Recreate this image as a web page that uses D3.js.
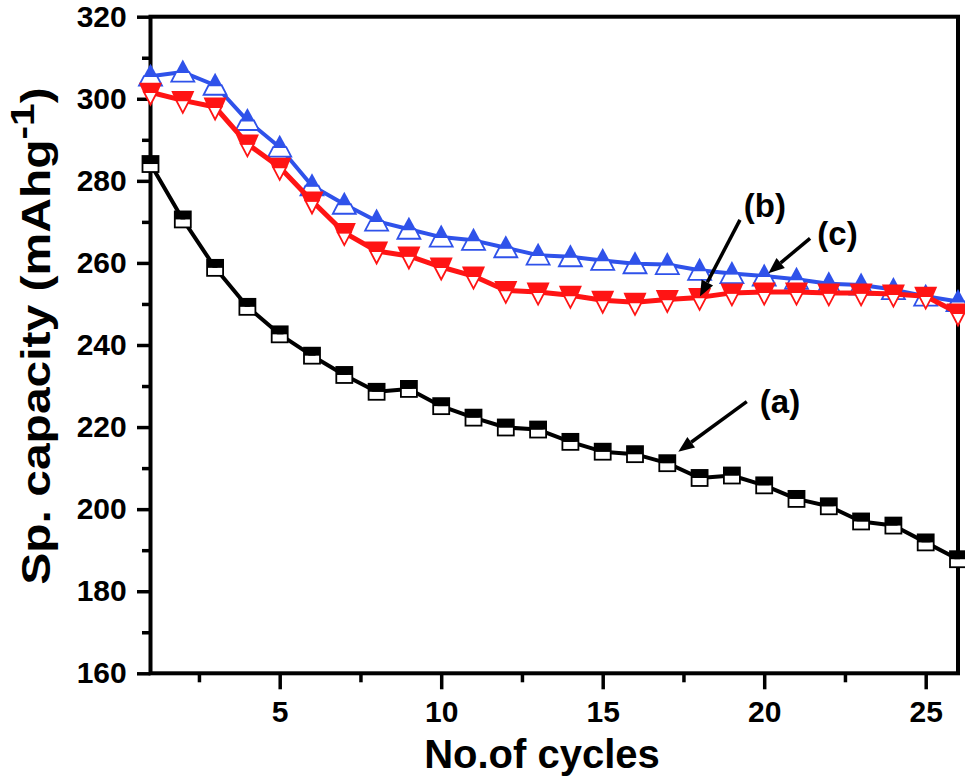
<!DOCTYPE html>
<html>
<head>
<meta charset="utf-8">
<script src="https://cdn.jsdelivr.net/npm/d3@7"></script>
<style>
  body { margin: 0; background: #fff; }
  svg text { font-family: "Liberation Sans", Arial, sans-serif; font-weight: bold; fill: #000; }
</style>
</head>
<body>
<div id="chart"></div>
<script>
// data
const cycles  = [1, 2, 3, 4, 5, 6, 7, 8, 9, 10, 11, 12, 13, 14, 15, 16, 17, 18, 19, 20, 21, 22, 23, 24, 25, 26];
const seriesA = [284.1, 270.6, 258.8, 249.3, 242.6, 237.4, 232.7, 228.6, 229.3, 225.1, 222.3, 219.9, 219.4,
                 216.4, 214.0, 213.4, 211.2, 207.6, 208.2, 205.8, 202.5, 200.7, 197.0, 196.0, 191.9, 187.8];
const seriesB = [301.6, 299.6, 298.0, 289.0, 283.3, 275.1, 267.4, 262.9, 261.7, 259.0, 256.8, 253.3, 252.9,
                 252.1, 250.9, 250.4, 251.1, 251.6, 252.7, 252.9, 252.9, 252.7, 252.7, 252.4, 251.9, 247.8];
const seriesC = [305.5, 306.5, 303.3, 294.7, 288.2, 278.8, 274.3, 270.2, 268.2, 266.3, 265.5, 263.7, 261.9,
                 261.5, 260.6, 259.8, 259.6, 258.2, 257.4, 256.8, 256.0, 254.9, 254.6, 253.5, 251.9, 250.6];
const yTicks  = [160, 180, 200, 220, 240, 260, 280, 300, 320];
const yMinor  = [170, 190, 210, 230, 250, 270, 290, 310];
const xTicks  = [5, 10, 15, 20, 25];
const xMinor  = [2.5, 7.5, 12.5, 17.5, 22.5];
const labels  = ["(a)", "(b)", "(c)"];

const W = 965, H = 782;
const margin = {top: 16.7, right: 7, bottom: 108.7, left: 150.5},
      width = W - margin.left - margin.right,
      height = H - margin.top - margin.bottom;

const svg = d3.select("#chart")
  .append("svg")
    .attr("width", W)
    .attr("height", H)
  .append("g")
    .attr("transform", `translate(${margin.left}, ${margin.top})`);

const x = d3.scaleLinear().domain([1, 26]).range([0, width]);
const y = d3.scaleLinear().domain([160, 320]).range([height, 0]);

// Y axis (major + minor)
svg.append("g")
  .call(d3.axisLeft(y).tickValues(yTicks).tickSize(13.5).tickSizeOuter(0).tickPadding(10.3))
  .call(g => g.select(".domain").remove())
  .call(g => g.selectAll("line").attr("stroke", "#000").attr("stroke-width", 3.5))
  .selectAll("text")
    .style("font-size", "30px")
    .style("font-family", null);

svg.append("g")
  .call(d3.axisLeft(y).tickValues(yMinor).tickSize(8.5).tickSizeOuter(0).tickFormat(""))
  .call(g => g.select(".domain").remove())
  .selectAll("line").attr("stroke", "#000").attr("stroke-width", 3.5);

// X axis (major + minor)
svg.append("g")
  .attr("transform", `translate(0, ${height})`)
  .call(d3.axisBottom(x).tickValues(xTicks).tickSize(16).tickSizeOuter(0).tickPadding(11))
  .call(g => g.select(".domain").remove())
  .call(g => g.selectAll("line").attr("stroke", "#000").attr("stroke-width", 3.5))
  .selectAll("text")
    .style("font-size", "30px")
    .style("font-family", null);

svg.append("g")
  .attr("transform", `translate(0, ${height})`)
  .call(d3.axisBottom(x).tickValues(xMinor).tickSize(9).tickSizeOuter(0).tickFormat(""))
  .call(g => g.select(".domain").remove())
  .selectAll("line").attr("stroke", "#000").attr("stroke-width", 3.5);

// frame
svg.append("rect")
  .attr("width", width)
  .attr("height", height)
  .attr("fill", "none")
  .attr("stroke", "#000")
  .attr("stroke-width", 4);

// axis titles
svg.append("text")
  .attr("x", 542 - margin.left)
  .attr("y", 768 - margin.top)
  .attr("text-anchor", "middle")
  .style("font-size", "40px")
  .text("No.of cycles");

const ylab = svg.append("text")
  .attr("transform", `translate(${50 - margin.left}, ${336 - margin.top}) rotate(-90) scale(1.2, 1)`)
  .attr("text-anchor", "middle")
  .style("font-size", "40px");
ylab.append("tspan").text("Sp. capacity (mAhg");
ylab.append("tspan").attr("dy", "-0.48em").style("font-size", "34px").text("-1");
ylab.append("tspan").attr("dy", "0.41em").text(")");

// lines + markers
const line = d3.line()
  .x((d, i) => x(cycles[i]))
  .y(d => y(d));

function drawSeries(values, color, lw, marker) {
  svg.append("path")
    .datum(values)
    .attr("fill", "none")
    .attr("stroke", color)
    .attr("stroke-width", lw)
    .attr("stroke-linejoin", "round")
    .attr("d", line);

  const m = svg.selectAll(null)
    .data(values)
    .enter()
    .append("g")
      .attr("transform", (d, i) => `translate(${x(cycles[i])}, ${y(d)})`);
  marker(m, color);
}

function squareMarker(m, color) {
  m.append("rect").attr("x", -8).attr("y", 0).attr("width", 16).attr("height", 8)
    .attr("fill", "#fff");
  m.append("rect").attr("x", -8).attr("y", -8).attr("width", 16).attr("height", 8)
    .attr("fill", color);
  m.append("rect").attr("x", -8).attr("y", -8).attr("width", 16).attr("height", 16)
    .attr("fill", "none").attr("stroke", color).attr("stroke-width", 1.8);
}

function upMarker(m, color) {
  const hw = 11.5 * 12.5 / 22;
  m.append("path").attr("d", `M${-hw},0L${hw},0L11.5,9.5L-11.5,9.5Z`)
    .attr("fill", "#fff").attr("stroke", color).attr("stroke-width", 1.8);
  m.append("path").attr("d", `M0,-12.5L${hw + 0.6},0.6L${-hw - 0.6},0.6Z`)
    .attr("fill", color);
}

function downMarker(m, color) {
  const hw = 11.5 * 12.5 / 22;
  m.append("path").attr("d", `M${-hw},0L${hw},0L0,12.5Z`)
    .attr("fill", "#fff").attr("stroke", color).attr("stroke-width", 1.8);
  m.append("path").attr("d", `M-11.5,-9.5L11.5,-9.5L${hw + 0.6},0.6L${-hw - 0.6},0.6Z`)
    .attr("fill", color);
}

drawSeries(seriesC, "#2f52ea", 4, upMarker);
drawSeries(seriesB, "#ff1414", 5, downMarker);
drawSeries(seriesA, "#000000", 4, squareMarker);

// annotations: label pos, arrow start, arrow tip (data units)
const notes = [
  {t: labels[0], tx: 20.49, ty: 223.4, x0: 19.46, y0: 226.2, x1: 17.34, y1: 214.0},
  {t: labels[1], tx: 20.02, ty: 271.2, x0: 19.25, y0: 270.5, x1: 18.01, y1: 251.8},
  {t: labels[2], tx: 22.27, ty: 264.4, x0: 21.42, y0: 266.0, x1: 20.13, y1: 257.5}
];

notes.forEach(n => {
  const ax = x(n.x0), ay = y(n.y0), bx = x(n.x1), by = y(n.y1);
  const ang = Math.atan2(by - ay, bx - ax);
  const len = 16, hw = 6.5;
  const cx = bx - len * Math.cos(ang), cy = by - len * Math.sin(ang);
  svg.append("line")
    .attr("x1", ax).attr("y1", ay).attr("x2", cx).attr("y2", cy)
    .attr("stroke", "#000").attr("stroke-width", 3.5);
  svg.append("path")
    .attr("d", `M${bx},${by}L${cx - hw * Math.sin(ang)},${cy + hw * Math.cos(ang)}L${cx + hw * Math.sin(ang)},${cy - hw * Math.cos(ang)}Z`)
    .attr("fill", "#000");
  svg.append("text")
    .attr("x", x(n.tx))
    .attr("y", y(n.ty))
    .attr("text-anchor", "middle")
    .style("font-size", "33px")
    .text(n.t);
});
</script>
</body>
</html>
